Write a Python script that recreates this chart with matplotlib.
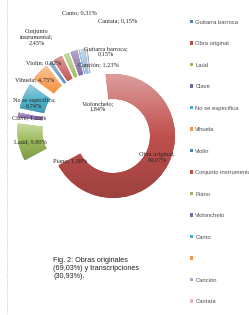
"""Gráfico de anillo despiezado: obras originales frente a transcripciones."""
import matplotlib

matplotlib.use("Agg")
import matplotlib.pyplot as plt
import numpy as np
from matplotlib.colors import LinearSegmentedColormap, to_rgb
from matplotlib.lines import Line2D
from matplotlib.patches import Patch

W_PX, H_PX = 249, 315

categories = [
    "Guitarra barroca", "Obra original", "Laúd", "Clave", "No se especifica",
    "Vihuela", "Violín", "Conjunto instrumental", "Piano", "Violonchelo",
    "Canto", "", "Canción", "Cantata",
]
values = [0.15, 69.07, 9.80, 1.23, 6.74, 4.75, 0.92, 2.45, 1.38, 1.84, 0.31, 0.0, 1.23, 0.15]
colors = [
    "#4F81BD", "#C0504D", "#9BBB59", "#8064A2", "#4BACC6", "#F79646", "#4F81BD",
    "#C0504D", "#9BBB59", "#8064A2", "#4BACC6", "#F79646", "#95B3D7", "#E6B9B8",
]

# etiquetas de datos tal como aparecen (texto, posición en px desde arriba-izquierda)
data_labels = [
    ("Canto; 0,31%", (79, 13)),
    ("Cantata; 0,15%", (118, 21)),
    ("Conjunto\ninstrumental;\n2,45%", (37, 37)),
    ("Guitarra barroca;\n0,15%", (106, 51.5)),
    ("Violín; 0,92%", (44, 63)),
    ("Canción; 1,23%", (98, 65)),
    ("Vihuela; 4,75%", (35, 80)),
    ("No se especifica;\n6,74%", (34, 102.5)),
    ("Violonchelo;\n1,84%", (98, 106)),
    ("Clave; 1,23%", (29, 118)),
    ("Laúd; 9,80%", (30, 142)),
    ("Piano; 1,38%", (70, 161)),
    ("Obra original;\n69,07%", (157, 157.5)),
]

caption = "Fig. 2: Obras originales\n(69,03%) y transcripciones\n(30,93%)."

CENTER = (97, H_PX - 127.7)
RADIUS = 62
RING = 25
EXPLODE = 18
START_ANGLE = 97.4


def shade(color, amount):
    rgb = np.array(to_rgb(color))
    if amount >= 0:
        return tuple(rgb + (1 - rgb) * amount)
    return tuple(rgb * (1 + amount))


def add_gradient(ax, wedge, color):
    verts = wedge.get_path().vertices
    x0, y0 = verts.min(axis=0)
    x1, y1 = verts.max(axis=0)
    cmap = LinearSegmentedColormap.from_list(
        "g", [shade(color, -0.18), color, shade(color, 0.45)]
    )
    grad = np.linspace(0, 1, 64).reshape(-1, 1)
    im = ax.imshow(grad, cmap=cmap, extent=(x0, x1, y0, y1), origin="lower",
                   aspect="auto", interpolation="bilinear", zorder=2)
    im.set_clip_path(wedge)


def main():
    fig = plt.figure(figsize=(W_PX / 100, H_PX / 100), dpi=100)
    ax = fig.add_axes([0, 0, 1, 1])

    wedges, _ = ax.pie(
        values,
        colors=colors,
        startangle=START_ANGLE,
        counterclock=False,
        center=CENTER,
        radius=RADIUS,
        explode=[EXPLODE] * len(values),
        wedgeprops=dict(width=RING, linewidth=0),
    )
    for w, c in zip(wedges, colors):
        add_gradient(ax, w, c)

    ax.set_aspect("auto")
    ax.set_xlim(0, W_PX)
    ax.set_ylim(0, H_PX)
    ax.axis("off")

    for text, (x, y) in data_labels:
        ax.text(x, H_PX - y, text, ha="center", va="center", fontsize=4.5,
                family="Liberation Serif", color="#262626", linespacing=1.1, zorder=5)

    fig.text(53 / W_PX, 1 - 256.5 / H_PX, caption, ha="left", va="top", fontsize=5.2,
             family="Liberation Sans", color="#222222", linespacing=1.25)

    handles = [Patch(facecolor=c, edgecolor="none") for c in colors]
    fig.legend(handles, categories, loc="upper left",
               bbox_to_anchor=(190 / W_PX, 1 - 19.5 / H_PX), frameon=False,
               prop={"family": "Liberation Sans", "size": 4.2},
               handlelength=0.55, handleheight=0.55, handletextpad=0.35,
               labelspacing=2.83, borderpad=0, borderaxespad=0,
               labelcolor="#4d4d4d")

    fig.add_artist(Line2D([7 / W_PX, 7 / W_PX], [0, 1], transform=fig.transFigure,
                          color="#aaaaaa", linewidth=0.5, linestyle=(0, (1, 1.5))))

    fig.savefig("out.png", dpi=100)
    plt.close(fig)


if __name__ == "__main__":
    main()
